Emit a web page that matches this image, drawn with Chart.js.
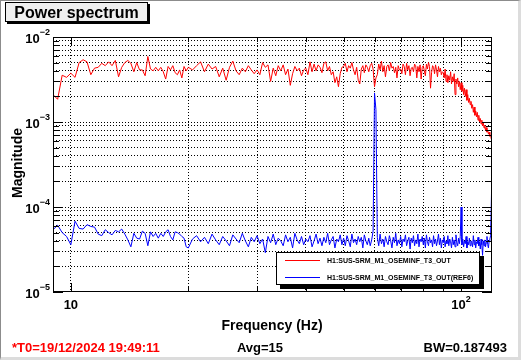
<!DOCTYPE html>
<html>
<head>
<meta charset="utf-8">
<script src="https://cdn.jsdelivr.net/npm/chart.js@4.4.1/dist/chart.umd.min.js"></script>
<style>
  html, body { margin: 0; padding: 0; background: #fff; }
  #wrap { position: relative; width: 521px; height: 360px; overflow: hidden;
          font-family: "Liberation Sans", Arial, sans-serif; font-weight: bold; color: #000; }
  #plot { position: absolute; left: 0; top: 0; }
  #edge { position: absolute; left: 0; top: 0; width: 521px; height: 360px; box-sizing: border-box;
          border-top: 1px solid #8c8c8c; border-left: 1px solid #8c8c8c;
          border-right: 3px solid #dcdcdc; border-bottom: 3px solid #dcdcdc; pointer-events: none; }
  .lbl { position: absolute; white-space: nowrap; }
  #title { left: 5px; top: 2px; width: 141px; height: 18px; background: #efefef; border: 1px solid #000;
           box-shadow: 2px 2px 0 #000; font-size: 16px; line-height: 19px; text-align: center; }
  #xtitle { left: 172px; top: 316px; width: 200px; text-align: center; font-size: 14px; line-height: 18px; }
  #ytitle { left: 17px; top: 163px; font-size: 14px; line-height: 16px; transform: translate(-50%, -50%) rotate(-90deg); }
  .foot { top: 340px; font-size: 13px; line-height: 16px; }
  #t0 { left: 12px; color: #f00; }
  #avg { left: 210px; width: 100px; text-align: center; }
  #bw { right: 14px; }
  #legend { left: 276px; top: 252px; width: 202px; height: 31px; background: #fff; border: 1px solid #000;
            box-shadow: 4px 4px 0 #000; font-size: 7px; }
  .lgline { position: absolute; left: 8px; width: 35px; height: 0; border-top: 1px solid; }
  .lgtext { position: absolute; left: 50px; line-height: 9px; }
</style>
</head>
<body>
<div id="wrap">
  <canvas id="plot" width="521" height="360"></canvas>
  <div id="title" class="lbl">Power spectrum</div>
  <div id="xtitle" class="lbl">Frequency (Hz)</div>
  <div id="ytitle" class="lbl">Magnitude</div>
  <div id="t0" class="lbl foot">*T0=19/12/2024 19:49:11</div>
  <div id="avg" class="lbl foot">Avg=15</div>
  <div id="bw" class="lbl foot">BW=0.187493</div>
  <div id="legend" class="lbl">
    <div class="lgline" style="top:7px;border-color:#f00"></div>
    <div class="lgtext" style="top:3px">H1:SUS-SRM_M1_OSEMINF_T3_OUT</div>
    <div class="lgline" style="top:24px;border-color:#00f"></div>
    <div class="lgtext" style="top:20px">H1:SUS-SRM_M1_OSEMINF_T3_OUT(REF6)</div>
  </div>
  <div id="edge"></div>
</div>
<script>
const seriesNames = ['H1:SUS-SRM_M1_OSEMINF_T3_OUT', 'H1:SUS-SRM_M1_OSEMINF_T3_OUT(REF6)'];

const freqHz = [
  9, 9.25, 9.5, 9.75, 10, 10.25, 10.5, 10.75, 11, 11.25, 11.5, 11.75, 12, 12.25, 12.5, 12.75,
  13, 13.25, 13.5, 13.75, 14, 14.25, 14.5, 14.75, 15, 15.25, 15.5, 15.75, 16, 16.25, 16.5, 16.75,
  17, 17.25, 17.5, 17.75, 18, 18.25, 18.5, 18.75, 19, 19.25, 19.5, 19.75,
  20, 20.5, 21, 21.5, 22, 22.5, 23, 23.5, 24, 24.5, 25, 25.5, 26, 26.5, 27, 27.5, 28, 28.5, 29, 29.5,
  30, 30.5, 31, 31.5, 32, 32.5, 33, 33.5, 34, 34.5, 35, 35.5, 36, 36.5, 37, 37.5, 38, 38.5, 39, 39.5,
  40, 40.5, 41, 41.5, 42, 42.5, 43, 43.5, 44, 44.5, 45, 45.5, 46, 46.5, 47, 47.5, 48, 48.5, 49, 49.5,
  50, 50.5, 51, 51.5, 52, 52.5, 53, 53.5, 54, 54.5, 55, 55.5, 56, 56.5, 57, 57.5, 58, 58.5, 59, 59.5,
  60, 60.5, 61, 61.5, 62, 62.5, 63, 63.5, 64, 64.5, 65, 65.5, 66, 66.5, 67, 67.5, 68, 68.5, 69, 69.5,
  70, 70.5, 71, 71.5, 72, 72.5, 73, 73.5, 74, 74.5, 75, 75.5, 76, 76.5, 77, 77.5, 78, 78.5, 79, 79.5,
  80, 80.5, 81, 81.5, 82, 82.5, 83, 83.5, 84, 84.5, 85, 85.5, 86, 86.5, 87, 87.5, 88, 88.5, 89, 89.5,
  90, 90.5, 91, 91.5, 92, 92.5, 93, 93.5, 94, 94.5, 95, 95.5, 96, 96.5, 97, 97.5, 98, 98.5, 99, 99.5,
  100, 100.5, 101, 101.5, 102, 102.5, 103, 103.5, 104, 104.5, 105, 105.5, 106, 106.5, 107, 107.5, 108, 108.5, 109, 109.5,
  110, 110.5, 111, 111.5, 112, 112.5, 113, 113.5, 114, 114.5, 115, 115.5, 116, 116.5, 117, 117.5, 118, 118.5, 119, 119.5,
  120
];

const redMag = [
  2.1e-3, 1.85e-3, 3.55e-3, 3.35e-3, 3.75e-3, 3.35e-3, 5.0e-3, 5.4e-3, 5.1e-3, 3.6e-3, 4.3e-3, 4.4e-3, 4.9e-3, 4.6e-3, 5.1e-3, 4.6e-3,
  5.3e-3, 3.4e-3, 4.4e-3, 5.0e-3, 5.3e-3, 4.9e-3, 3.9e-3, 5.0e-3, 4.1e-3, 4.1e-3, 3.5e-3, 5.9e-3, 4.2e-3, 4.0e-3, 4.4e-3, 4.0e-3,
  4.4e-3, 3.9e-3, 3.2e-3, 4.5e-3, 4.1e-3, 4.6e-3, 3.8e-3, 3.6e-3, 4.1e-3, 3.3e-3, 4.5e-3, 4.0e-3,
  4.4e-3, 4.1e-3, 4.6e-3, 5.1e-3, 3.9e-3, 4.8e-3, 4.2e-3, 4.5e-3, 3.4e-3, 4.3e-3, 3.1e-3, 4.4e-3, 5.2e-3, 4.0e-3, 3.6e-3, 4.3e-3, 3.9e-3, 4.6e-3, 4.1e-3, 3.7e-3,
  4.1e-3, 3.6e-3, 5.0e-3, 4.4e-3, 4.7e-3, 3.0e-3, 4.3e-3, 3.5e-3, 4.6e-3, 4.0e-3, 4.7e-3, 3.6e-3, 4.2e-3, 2.7e-3, 3.7e-3, 4.5e-3, 4.0e-3, 4.3e-3, 3.5e-3, 4.1e-3,
  4.3e-3, 3.6e-3, 5.1e-3, 3.9e-3, 4.8e-3, 4.0e-3, 4.7e-3, 4.4e-3, 3.8e-3, 4.9e-3, 5.1e-3, 4.0e-3, 4.5e-3, 3.6e-3, 3.9e-3, 2.9e-3, 3.4e-3, 2.6e-3, 3.7e-3, 4.4e-3,
  4.5e-3, 4.9e-3, 3.9e-3, 4.6e-3, 4.3e-3, 5.0e-3, 4.1e-3, 3.6e-3, 4.4e-3, 3.1e-3, 2.8e-3, 4.2e-3, 4.6e-3, 3.8e-3, 4.7e-3, 4.4e-3, 3.9e-3, 4.6e-3, 4.9e-3, 4.2e-3,
  2.6e-3, 3.3e-3, 3.6e-3, 4.8e-3, 4.1e-3, 5.2e-3, 3.9e-3, 4.6e-3, 3.4e-3, 4.5e-3, 4.7e-3, 4.0e-3, 5.0e-3, 4.3e-3, 4.5e-3, 3.8e-3, 4.4e-3, 3.3e-3, 4.6e-3, 4.1e-3,
  4.2e-3, 3.7e-3, 4.8e-3, 4.5e-3, 3.6e-3, 4.9e-3, 4.1e-3, 4.6e-3, 3.5e-3, 4.3e-3, 4.4e-3, 3.9e-3, 4.8e-3, 4.6e-3, 3.3e-3, 4.5e-3, 3.9e-3, 4.7e-3, 3.2e-3, 4.4e-3,
  4.6e-3, 4.0e-3, 3.5e-3, 4.8e-3, 4.2e-3, 5.0e-3, 4.5e-3, 2.5e-3, 3.8e-3, 4.6e-3, 4.4e-3, 3.7e-3, 4.7e-3, 4.1e-3, 3.4e-3, 4.5e-3, 3.9e-3, 4.3e-3, 3.6e-3, 3.9e-3,
  3.8e-3, 3.3e-3, 4.2e-3, 3.0e-3, 3.6e-3, 2.9e-3, 3.5e-3, 3.1e-3, 3.9e-3, 2.8e-3, 3.4e-3, 3.0e-3, 3.7e-3, 2.1e-3, 3.2e-3, 2.8e-3, 3.3e-3, 2.6e-3, 3.0e-3, 2.4e-3,
  2.9e-3, 2.3e-3, 2.7e-3, 2.1e-3, 2.5e-3, 2.0e-3, 2.4e-3, 1.8e-3, 2.1e-3, 1.7e-3, 1.9e-3, 1.6e-3, 1.75e-3, 1.45e-3, 1.6e-3, 1.3e-3, 1.5e-3, 1.2e-3, 1.35e-3, 1.15e-3,
  1.3e-3, 1.05e-3, 1.2e-3, 1.0e-3, 1.1e-3, 9.5e-4, 1.05e-3, 9.0e-4, 9.8e-4, 8.5e-4, 9.2e-4, 8.0e-4, 8.6e-4, 7.6e-4, 8.0e-4, 7.2e-4, 7.6e-4, 6.8e-4, 7.0e-4, 6.3e-4,
  6.2e-4
];

const blueMag = [
  5.4e-5, 6.1e-5, 5.0e-5, 4.5e-5, 3.6e-5, 6.8e-5, 5.6e-5, 5.5e-5, 6.2e-5, 5.9e-5, 5.8e-5, 4.8e-5, 4.6e-5, 5.4e-5, 5.0e-5, 4.7e-5,
  5.3e-5, 5.1e-5, 5.5e-5, 4.8e-5, 4.1e-5, 3.4e-5, 4.9e-5, 4.3e-5, 4.2e-5, 5.2e-5, 4.9e-5, 3.5e-5, 5.1e-5, 4.5e-5, 4.9e-5, 4.3e-5,
  4.9e-5, 4.5e-5, 5.1e-5, 5.4e-5, 4.5e-5, 4.1e-5, 5.1e-5, 5.0e-5, 4.8e-5, 4.5e-5, 4.3e-5, 3.4e-5,
  3.3e-5, 4.2e-5, 4.6e-5, 3.9e-5, 4.4e-5, 3.7e-5, 4.8e-5, 4.1e-5, 3.6e-5, 4.5e-5, 4.0e-5, 3.5e-5, 4.7e-5, 4.2e-5, 3.8e-5, 4.9e-5, 4.0e-5, 3.4e-5, 4.4e-5, 3.9e-5,
  4.6e-5, 3.7e-5, 4.2e-5, 2.9e-5, 4.5e-5, 3.8e-5, 4.8e-5, 3.6e-5, 4.3e-5, 4.0e-5, 3.5e-5, 4.7e-5, 3.9e-5, 4.4e-5, 3.3e-5, 4.9e-5, 4.1e-5, 3.7e-5, 4.5e-5, 3.6e-5,
  4.2e-5, 3.9e-5, 4.6e-5, 3.4e-5, 4.0e-5, 4.8e-5, 3.7e-5, 4.3e-5, 3.5e-5, 4.4e-5, 3.8e-5, 4.9e-5, 3.6e-5, 4.1e-5, 4.5e-5, 3.3e-5, 4.2e-5, 3.9e-5, 4.7e-5, 3.6e-5,
  4.3e-5, 3.5e-5, 4.6e-5, 4.0e-5, 3.4e-5, 4.8e-5, 3.8e-5, 4.2e-5, 3.6e-5, 4.5e-5, 3.9e-5, 4.4e-5, 3.3e-5, 4.7e-5, 4.0e-5, 3.6e-5, 4.3e-5, 3.5e-5, 4.1e-5, 5.2e-5,
  2.2e-3, 1.4e-3, 4.4e-5, 3.5e-5, 4.8e-5, 3.7e-5, 4.2e-5, 3.4e-5, 4.5e-5, 3.9e-5, 3.6e-5, 4.6e-5, 4.0e-5, 3.3e-5, 4.4e-5, 3.8e-5, 4.9e-5, 3.5e-5, 4.1e-5, 3.7e-5,
  4.5e-5, 3.4e-5, 4.2e-5, 3.9e-5, 4.7e-5, 3.5e-5, 4.0e-5, 4.4e-5, 3.2e-5, 4.3e-5, 3.8e-5, 4.6e-5, 3.5e-5, 4.1e-5, 3.7e-5, 4.8e-5, 3.4e-5, 4.2e-5, 3.9e-5, 4.5e-5,
  3.6e-5, 4.3e-5, 3.3e-5, 4.7e-5, 3.9e-5, 3.5e-5, 4.4e-5, 3.8e-5, 4.1e-5, 3.4e-5, 4.6e-5, 3.7e-5, 4.2e-5, 3.5e-5, 4.0e-5, 4.8e-5, 3.6e-5, 4.3e-5, 3.3e-5, 4.1e-5,
  3.8e-5, 4.5e-5, 3.4e-5, 4.0e-5, 3.7e-5, 4.6e-5, 3.5e-5, 4.2e-5, 3.9e-5, 3.3e-5, 4.4e-5, 3.6e-5, 4.1e-5, 3.4e-5, 4.7e-5, 3.8e-5, 3.5e-5, 4.3e-5, 3.7e-5, 4.5e-5,
  1.0e-4, 3.6e-5, 4.2e-5, 3.4e-5, 4.0e-5, 3.7e-5, 4.5e-5, 3.3e-5, 3.9e-5, 3.6e-5, 4.3e-5, 3.5e-5, 4.0e-5, 3.8e-5, 3.4e-5, 4.6e-5, 3.6e-5, 4.1e-5, 3.3e-5, 3.9e-5,
  3.7e-5, 4.4e-5, 3.5e-5, 3.9e-5, 3.2e-5, 4.2e-5, 3.6e-5, 2.7e-5, 4.0e-5, 3.5e-5, 4.1e-5, 3.4e-5, 3.8e-5, 4.5e-5, 3.6e-5, 3.3e-5, 4.0e-5, 4.2e-5, 4.6e-5, 1.05e-4,
  3.1e-4
];

// axis ticks (ROOT style: grid at every 1..9 x 10^n)
const xTicks = [10, 20, 30, 40, 50, 60, 70, 80, 90, 100];
const xLabelTicks = [10, 100];
const xLabelExp = ['', '2'];
const yTicks = [
  1e-5, 2e-5, 3e-5, 4e-5, 5e-5, 6e-5, 7e-5, 8e-5, 9e-5,
  1e-4, 2e-4, 3e-4, 4e-4, 5e-4, 6e-4, 7e-4, 8e-4, 9e-4,
  1e-3, 2e-3, 3e-3, 4e-3, 5e-3, 6e-3, 7e-3, 8e-3, 9e-3,
  1e-2
];
const yLabelTicks = [1e-5, 1e-4, 1e-3, 1e-2];
const yLabelExp = ['\u22125', '\u22124', '\u22123', '\u22122'];

const FONT = '"Liberation Sans", Arial, sans-serif';

const rootAxes = {
  id: 'rootAxes',
  afterDraw(chart) {
    const { ctx, chartArea: a, scales: { x, y } } = chart;
    ctx.save();
    ctx.strokeStyle = '#000';
    ctx.lineWidth = 1;
    ctx.beginPath();
    yTicks.forEach(v => {
      const py = Math.round(y.getPixelForValue(v)) + 0.5;
      const len = yLabelTicks.includes(v) ? 10 : 6;
      ctx.moveTo(a.left, py); ctx.lineTo(a.left + len, py);
      ctx.moveTo(a.right, py); ctx.lineTo(a.right - len, py);
    });
    xTicks.forEach(v => {
      const px = Math.round(x.getPixelForValue(v)) + 0.5;
      const len = xLabelTicks.includes(v) ? 9 : 5;
      ctx.moveTo(px, a.bottom); ctx.lineTo(px, a.bottom - len);
      ctx.moveTo(px, a.top); ctx.lineTo(px, a.top + len);
    });
    ctx.stroke();
    ctx.strokeRect(a.left + 0.5, a.top + 0.5, a.right - a.left - 1, a.bottom - a.top - 1);

    const mainFont = 'bold 13px ' + FONT;
    const supFont = 'bold 9px ' + FONT;
    ctx.fillStyle = '#000';
    ctx.textAlign = 'left';
    ctx.textBaseline = 'middle';
    yLabelTicks.forEach((v, i) => {
      const py = y.getPixelForValue(v);
      ctx.font = supFont;
      const we = ctx.measureText(yLabelExp[i]).width;
      ctx.font = mainFont;
      const wb = ctx.measureText('10').width;
      const xr = a.left - 3;
      ctx.fillText('10', xr - we - wb, py + 2);
      ctx.font = supFont;
      ctx.fillText(yLabelExp[i], xr - we, py - 4);
    });
    xLabelTicks.forEach((v, i) => {
      const px = x.getPixelForValue(v);
      ctx.font = supFont;
      const we = xLabelExp[i] ? ctx.measureText(xLabelExp[i]).width : 0;
      ctx.font = mainFont;
      const wb = ctx.measureText('10').width;
      const x0 = px - (wb + we) / 2;
      ctx.fillText('10', x0, a.bottom + 13);
      if (xLabelExp[i]) {
        ctx.font = supFont;
        ctx.fillText(xLabelExp[i], x0 + wb, a.bottom + 8);
      }
    });
    ctx.restore();
  }
};

new Chart(document.getElementById('plot').getContext('2d'), {
  type: 'line',
  data: {
    datasets: [
      {
        label: seriesNames[0],
        data: freqHz.map((f, i) => ({ x: f, y: redMag[i] })),
        borderColor: '#ff0000',
        borderWidth: 1,
        pointRadius: 0,
        tension: 0,
        fill: false
      },
      {
        label: seriesNames[1],
        data: freqHz.map((f, i) => ({ x: f, y: blueMag[i] })),
        borderColor: '#0000ff',
        borderWidth: 1,
        pointRadius: 0,
        tension: 0,
        fill: false
      }
    ]
  },
  options: {
    responsive: false,
    devicePixelRatio: 1,
    animation: false,
    layout: { padding: { left: 53, right: 29, top: 37, bottom: 68 } },
    plugins: { legend: { display: false }, tooltip: { enabled: false } },
    scales: {
      x: {
        type: 'logarithmic',
        min: 9,
        max: 120,
        bounds: 'data',
        afterBuildTicks: s => { s.ticks = xTicks.map(v => ({ value: v })); },
        ticks: { display: false },
        grid: { color: '#000', lineWidth: 1, drawTicks: false },
        border: { display: false, dash: [1, 2] }
      },
      y: {
        type: 'logarithmic',
        min: 1e-5,
        max: 1e-2,
        bounds: 'data',
        afterBuildTicks: s => { s.ticks = yTicks.filter(v => v > 1e-5 && v < 1e-2).map(v => ({ value: v })); },
        ticks: { display: false },
        grid: { color: '#000', lineWidth: 1, drawTicks: false },
        border: { display: false, dash: [1, 2] }
      }
    }
  },
  plugins: [rootAxes]
});
</script>
</body>
</html>
